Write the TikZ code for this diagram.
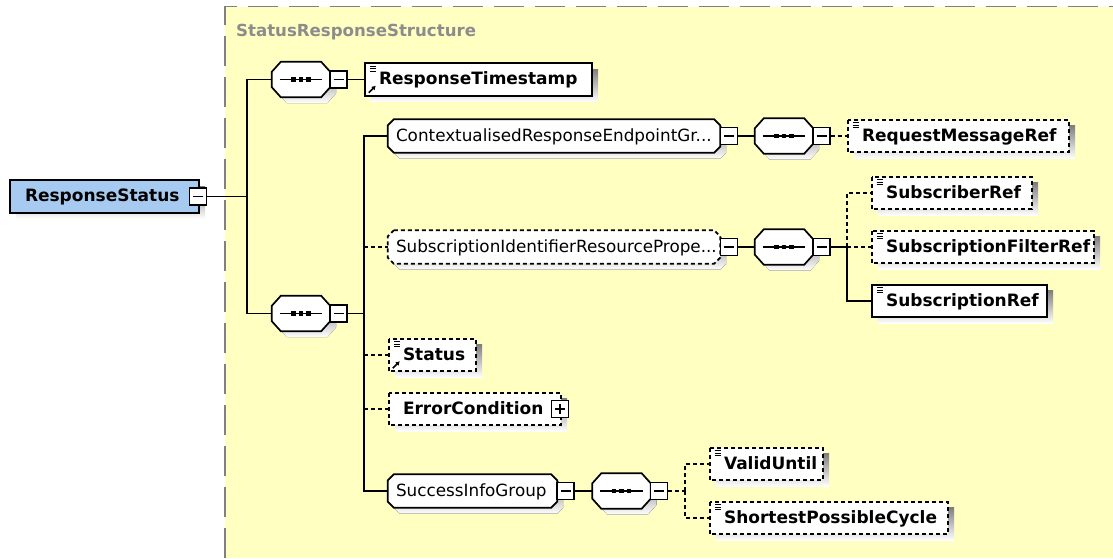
\documentclass[tikz,border=0pt]{standalone}
\usepackage{fontspec}
\setmainfont{DejaVu Sans}
\usetikzlibrary{arrows.meta}

\pgfdeclarelayer{bg}
\pgfdeclarelayer{shadow}
\pgfdeclarelayer{shape}
\pgfsetlayers{bg,shadow,shape,main}

\definecolor{panel}{RGB}{255,255,194}
\definecolor{shade}{RGB}{192,192,192}
\definecolor{rootfill}{RGB}{166,202,240}
\definecolor{titlegray}{RGB}{140,140,140}
\definecolor{edgegray}{RGB}{128,128,128}

\tikzset{
  conn/.style={line width=1.4pt, draw=black},
  opt/.style={dash pattern=on 4pt off 3pt},
  boxline/.style={line width=1.7pt, draw=black, fill=white},
  slot/.style={rectangle, draw=none, inner sep=0pt, minimum height=32pt},
  gslot/.style={rectangle, draw=none, inner sep=0pt, minimum height=33pt},
  seqslot/.style={rectangle, draw=none, inner sep=0pt, minimum width=58pt, minimum height=35pt},
  etext/.style={anchor=west, inner sep=0pt, text height=14pt, text depth=4pt,
    font=\fontsize{17pt}{19pt}\selectfont\bfseries},
  gtext/.style={anchor=west, inner sep=0pt, text height=14pt, text depth=4pt,
    font=\fontsize{16.8pt}{19pt}\selectfont},
  ttext/.style={anchor=west, inner sep=0pt, text height=14pt, text depth=4pt,
    font=\fontsize{16.6pt}{19pt}\selectfont\bfseries, text=titlegray},
  toggle/.style={rectangle, draw=black, fill=white, line width=1.4pt,
    minimum size=17pt, inner sep=0pt},
  minus/.style={toggle, path picture={
    \draw[line width=1.3pt] ([xshift=3.5pt]path picture bounding box.west)
      -- ([xshift=-3.5pt]path picture bounding box.east);}},
  plus/.style={toggle, path picture={
    \draw[line width=1.3pt] ([xshift=3.5pt]path picture bounding box.west)
      -- ([xshift=-3.5pt]path picture bounding box.east);
    \draw[line width=1.3pt] ([yshift=-3.5pt]path picture bounding box.north)
      -- ([yshift=3.5pt]path picture bounding box.south);}},
  sh/.style={xshift=6pt, yshift=-6pt},
}

% rectangular element box with drop shadow
\newcommand\elembox[2][]{%
  \begin{pgfonlayer}{shadow}
    \fill[shade] ([sh]#2.north west) rectangle ([sh]#2.south east);
  \end{pgfonlayer}
  \begin{pgfonlayer}{shape}
    \draw[boxline,#1] (#2.north west) rectangle (#2.south east);
  \end{pgfonlayer}}

% box with cut corners (groups and compositors) with drop shadow
\newcommand\cutshape[4][]{%
  \begin{pgfonlayer}{shadow}
    \fill[shade]
      ([sh,xshift=#3]#2.north west) -- ([sh,xshift=-#3]#2.north east)
      -- ([sh,yshift=-#4]#2.north east) -- ([sh,yshift=#4]#2.south east)
      -- ([sh,xshift=-#3]#2.south east) -- ([sh,xshift=#3]#2.south west)
      -- ([sh,yshift=#4]#2.south west) -- ([sh,yshift=-#4]#2.north west) -- cycle;
  \end{pgfonlayer}
  \begin{pgfonlayer}{shape}
    \draw[boxline,#1]
      ([xshift=#3]#2.north west) -- ([xshift=-#3]#2.north east)
      -- ([yshift=-#4]#2.north east) -- ([yshift=#4]#2.south east)
      -- ([xshift=-#3]#2.south east) -- ([xshift=#3]#2.south west)
      -- ([yshift=#4]#2.south west) -- ([yshift=-#4]#2.north west) -- cycle;
  \end{pgfonlayer}}

% sequence compositor: octagon with a dotted bar
\newcommand\seqshape[1]{%
  \cutshape{#1}{9pt}{10pt}
  \draw[line width=1.4pt] ([xshift=8pt]#1.west) -- ([xshift=-8pt]#1.east);
  \fill ([xshift=-7.5pt]#1.center) +(-2.3pt,-2.3pt) rectangle +(2.3pt,2.3pt);
  \fill (#1.center) +(-2.3pt,-2.3pt) rectangle +(2.3pt,2.3pt);
  \fill ([xshift=7.5pt]#1.center) +(-2.3pt,-2.3pt) rectangle +(2.3pt,2.3pt);}

% simple-content marker in the upper left corner
\newcommand\simpleicon[1]{%
  \foreach \d in {3,5.5,8}
    \draw[line width=1pt] ([shift={(5pt,-\d pt)}]#1.north west) -- ++(6pt,0pt);}

% reference marker in the lower left corner
\newcommand\refarrow[1]{%
  \draw[line width=1.6pt, -{Latex[length=4pt,width=5pt]}]
    ([shift={(4pt,3pt)}]#1.south west) -- ++(7pt,7pt);}

\begin{document}
\begin{tikzpicture}[x=1pt,y=-1pt]
\useasboundingbox (0,0) rectangle (1113,558);

\begin{pgfonlayer}{bg}
  \fill[white] (0,0) rectangle (1113,558);
  \fill[panel] (225,6.5) rectangle (1113,558);
  \draw[edgegray, line width=1.4pt, dash pattern=on 30pt off 11pt]
    (225,558) -- (225,6.5) -- (1113,6.5);
\end{pgfonlayer}

\node[ttext] (title) at (236,31) {StatusResponseStructure};

% root element
\node[slot, minimum width=189pt] (rs) at (104.5,196.5) {};
\elembox[fill=rootfill]{rs}
\node[etext] (rs-t) at ([xshift=15pt]rs.west) {ResponseStatus};
\node[minus] (rs-m) at (198,196.5) {};

% first sequence
\node[seqslot] (seq1) at (301,79.5) {};
\seqshape{seq1}
\node[minus] (seq1-m) at (338.5,79.5) {};

\node[slot, minimum width=227pt] (rts) at (478.5,79.5) {};
\elembox{rts}\simpleicon{rts}\refarrow{rts}
\node[etext] (rts-t) at ([xshift=14pt]rts.west) {ResponseTimestamp};

% second sequence
\node[seqslot] (seq2) at (301,313.5) {};
\seqshape{seq2}
\node[minus] (seq2-m) at (338.5,313.5) {};

% endpoint group
\node[gslot, minimum width=332pt] (ctx) at (554,136) {};
\cutshape{ctx}{6pt}{6pt}
\node[gtext] (ctx-t) at ([xshift=8pt]ctx.west) {ContextualisedResponseEndpointGr...};
\node[minus] (ctx-m) at (729,136) {};

\node[seqslot] (ctxseq) at (784,136) {};
\seqshape{ctxseq}
\node[minus] (ctxseq-m) at (821.5,136) {};

\node[slot, minimum width=221pt] (rmr) at (958.5,136) {};
\elembox[opt]{rmr}\simpleicon{rmr}
\node[etext] (rmr-t) at ([xshift=14pt]rmr.west) {RequestMessageRef};

% subscription identifier group
\node[gslot, minimum width=332pt] (sub) at (554,247) {};
\cutshape[opt]{sub}{6pt}{6pt}
\node[gtext] (sub-t) at ([xshift=8pt]sub.west) {SubscriptionIdentifierResourcePrope...};
\node[minus] (sub-m) at (729,247) {};

\node[seqslot] (subseq) at (784,247) {};
\seqshape{subseq}
\node[minus] (subseq-m) at (821.5,247) {};

\node[slot, minimum width=160pt] (subr) at (952,193) {};
\elembox[opt]{subr}\simpleicon{subr}
\node[etext] (subr-t) at ([xshift=14pt]subr.west) {SubscriberRef};

\node[slot, minimum width=222pt] (sfr) at (983,247) {};
\elembox[opt]{sfr}\simpleicon{sfr}
\node[etext] (sfr-t) at ([xshift=14pt]sfr.west) {SubscriptionFilterRef};

\node[slot, minimum width=175pt] (sref) at (959.5,301) {};
\elembox{sref}\simpleicon{sref}
\node[etext] (sref-t) at ([xshift=14pt]sref.west) {SubscriptionRef};

% status and error
\node[slot, minimum width=87pt] (stat) at (432.5,355) {};
\elembox[opt]{stat}\simpleicon{stat}\refarrow{stat}
\node[etext] (stat-t) at ([xshift=14pt]stat.west) {Status};

\node[slot, minimum width=172pt] (err) at (475,409) {};
\elembox[opt]{err}
\node[etext] (err-t) at ([xshift=14pt]err.west) {ErrorCondition};
\node[plus] (err-p) at (560,409) {};

% success info group
\node[gslot, minimum width=169pt] (succ) at (472.5,491) {};
\cutshape{succ}{6pt}{6pt}
\node[gtext] (succ-t) at ([xshift=8pt]succ.west) {SuccessInfoGroup};
\node[minus] (succ-m) at (565.5,491) {};

\node[seqslot] (succseq) at (621.5,491) {};
\seqshape{succseq}
\node[minus] (succseq-m) at (659,491) {};

\node[slot, minimum width=113pt] (valid) at (766.5,464) {};
\elembox[opt]{valid}\simpleicon{valid}
\node[etext] (valid-t) at ([xshift=14pt]valid.west) {ValidUntil};

\node[slot, minimum width=238pt] (spc) at (829,518) {};
\elembox[opt]{spc}\simpleicon{spc}
\node[etext] (spc-t) at ([xshift=14pt]spc.west) {ShortestPossibleCycle};

% connectors
\coordinate (j1) at (247,196.5);
\draw[conn] (rs-m.east) -- (j1);
\draw[conn] (j1) |- (seq1.west);
\draw[conn] (j1) |- (seq2.west);
\draw[conn] (seq1-m.east) -- (rts.west);

\coordinate (j2) at (364,313.5);
\draw[conn] (seq2-m.east) -- (j2);
\draw[conn] (j2) |- (ctx.west);
\draw[conn] (j2) |- (succ.west);
\draw[conn,opt] (j2 |- sub.west) -- (sub.west);
\draw[conn,opt] (j2 |- stat.west) -- (stat.west);
\draw[conn,opt] (j2 |- err.west) -- (err.west);

\draw[conn] (ctx-m.east) -- (ctxseq.west);
\draw[conn,opt] (ctxseq-m.east) -- (rmr.west);

\draw[conn] (sub-m.east) -- (subseq.west);
\coordinate (j3) at (847,247);
\draw[conn] (subseq-m.east) -- (j3);
\draw[conn,opt] (j3) |- (subr.west);
\draw[conn,opt] (j3) -- (sfr.west);
\draw[conn] (j3) |- (sref.west);

\draw[conn] (succ-m.east) -- (succseq.west);
\coordinate (j4) at (685,491);
\draw[conn,opt] (succseq-m.east) -- (j4);
\draw[conn,opt] (j4) |- (valid.west);
\draw[conn,opt] (j4) |- (spc.west);
\end{tikzpicture}
\end{document}
